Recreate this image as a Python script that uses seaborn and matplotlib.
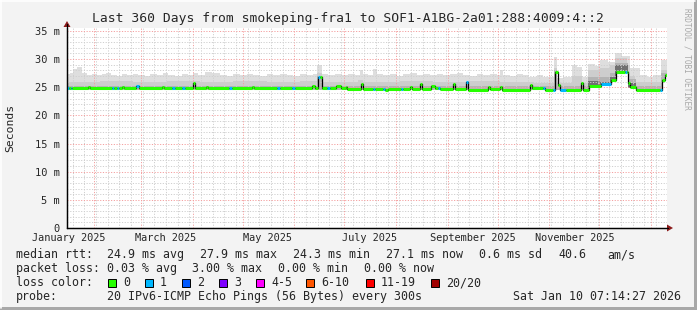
import numpy as np
import pandas as pd
import matplotlib
matplotlib.use("Agg")
import matplotlib.pyplot as plt
import seaborn as sns
from matplotlib.patches import Rectangle, Polygon
from matplotlib.lines import Line2D

# ---------------- data ----------------
start = pd.Timestamp("2025-01-15 07:14:27")
span_days = 360

# median rtt (ms) as steps: start day, value, loss-colour index
med_day = [0, 1.5, 2.5, 3.5, 13, 14, 27, 28.5, 30, 31.5, 33.5, 34.5, 41.5, 43.5, 57.5, 58.5,
           63.5, 65, 69.5, 71, 75.6, 77, 83.4, 85, 97.5, 99, 111, 112.5, 126.5, 128, 135.5, 137,
           147.5, 149, 150.8, 151.8, 153, 156.5, 158, 161.4, 164.4, 167.4, 168.5, 176.4, 177.8,
           183.6, 185, 189.6, 190.8, 193, 200.4, 201.8, 205.8, 207, 211.8, 213, 218.4, 221, 222.6,
           224, 231.6, 233, 239.4, 240.6, 252.6, 254, 259.8, 261, 277.8, 279, 285.6, 286.8, 291.6,
           292.8, 294.6, 295.8, 299.4, 308.4, 309.6, 313.2, 320.4, 326.4, 329.4, 334.8, 336,
           336.6, 337.8, 341.4, 356, 357, 358.8]
med_val = [24.9, 24.8, 24.8, 24.8, 25.0, 24.8, 24.8, 24.8, 24.8, 24.8, 25.1, 24.8, 25.2, 24.9, 25.1, 24.8,
           24.8, 24.8, 24.8, 24.8, 25.8, 24.8, 25.0, 24.8, 24.8, 24.8, 25.0, 24.8, 24.8, 24.8, 24.8, 24.8,
           25.2, 24.8, 26.8, 26.8, 24.8, 24.8, 24.8, 25.2, 24.8, 25.0, 24.7, 25.6, 24.7,
           24.7, 24.7, 24.7, 24.5, 24.7, 24.7, 24.7, 25.1, 24.7, 25.6, 24.7, 25.3, 24.9, 24.9,
           24.7, 25.6, 24.7, 25.9, 24.6, 25.0, 24.7, 25.0, 24.5, 25.4, 24.8, 24.8, 24.5, 24.5,
           27.8, 25.4, 24.6, 24.6, 25.7, 24.6, 25.2, 25.5, 26.3, 27.8, 27.8, 27.8,
           25.7, 25.1, 24.5, 24.5, 26.3, 27.2]
med_loss = [1, 0, 1, 0, 0, 0, 1, 0, 1, 0, 0, 0, 1, 0, 0, 0,
            1, 0, 1, 0, 0, 0, 0, 0, 1, 0, 0, 0, 1, 0, 1, 0,
            0, 0, 1, 0, 0, 1, 0, 0, 0, 0, 0, 0, 0,
            1, 0, 1, 0, 0, 1, 0, 0, 0, 0, 0, 0, 0, 1,
            0, 0, 0, 1, 0, 0, 0, 0, 0, 0, 0, 1, 0, 1,
            0, 0, 1, 0, 0, 0, 0, 1, 0, 0, 1, 0,
            0, 0, 0, 1, 0, 0]

# smoke: lower edge and the tops of the grey layers (ms)
lo_day = [0, 313.2, 320.4, 326.4, 329.4, 336.6, 341.4, 357, 358.8]
lo_val = [24.5, 24.9, 25.2, 25.9, 27.5, 24.9, 24.4, 25.8, 26.8]

outer_day = [0, 2, 4, 6.5, 9.5, 12, 15, 18, 21, 23.5, 26.5, 30, 33, 36, 40, 43, 47, 50, 54, 58, 61,
             65, 69, 73, 76, 79, 83, 87, 92, 96, 100, 104, 108, 112, 116, 120, 124, 128, 132, 136,
             140, 144, 148, 150.5, 153, 157, 161, 165, 169, 173, 176, 178, 181, 184, 186, 190, 194,
             198, 202, 206, 210, 214, 218, 222, 226, 230, 234, 238, 242, 246, 250, 254, 258, 260,
             262, 266, 270, 274, 277, 282, 286, 292.5, 294.5, 298, 303, 306, 309, 313, 317, 320,
             325, 329, 333, 338, 344, 348, 352, 356.4]
outer_top = [27.3, 27.6, 28.3, 28.6, 27.5, 27.2, 27.4, 27.1, 27.3, 27.6, 27.2, 27.0, 27.3, 27.1, 27.4, 27.2, 27.0, 27.3, 27.1, 27.5, 27.2,
             27.0, 27.3, 27.1, 27.6, 27.2, 27.7, 27.5, 27.2, 27.0, 27.3, 27.1, 27.4, 27.2, 27.0, 27.3, 27.1, 27.4, 27.2, 27.0,
             27.3, 27.1, 27.4, 28.9, 27.4, 27.1, 27.3, 27.1, 27.4, 27.2, 28.0, 27.3, 27.1, 28.2, 27.4, 27.1, 27.3,
             27.0, 27.4, 27.5, 27.2, 27.3, 27.1, 27.4, 27.1, 27.3, 27.5, 27.2, 27.0, 27.3, 27.1, 27.4, 27.2, 28.0,
             27.2, 27.0, 27.3, 27.1, 26.9, 27.1, 26.8, 30.4, 26.6, 26.9, 29.0, 28.6, 26.9, 29.2, 28.8, 29.8,
             29.5, 31.0, 30.6, 28.4, 27.2, 26.9, 27.1, 29.8]

mid_day = [0, 20, 40, 60, 80, 100, 120, 140, 150.5, 153, 175, 178, 200, 220, 240, 260, 280,
           292.5, 294.5, 300, 303, 309, 313, 320, 326, 329, 336, 338, 341, 356.4]
mid_top = [26.0, 26.2, 25.9, 26.1, 26.0, 26.2, 25.9, 26.1, 27.5, 26.0, 26.3, 26.0, 26.1, 25.9, 26.2, 25.9, 25.8,
           28.5, 25.7, 25.8, 27.0, 25.8, 28.0, 28.5, 29.0, 30.2, 29.0, 27.0, 26.0, 28.0]

inner_day = [0, 150.5, 153, 292.5, 294.5, 313, 326, 329, 336.6, 341.4, 356.4]
inner_top = [25.3, 27.0, 25.3, 28.0, 25.2, 26.8, 27.5, 29.4, 26.5, 25.2, 27.5]

core_day = [0, 313, 320, 326, 329, 336.6, 341.4]
core_top = [0, 26.2, 26.0, 26.8, 28.9, 25.8, 0]

loss_labels = ["0", "1", "2", "3", "4-5", "6-10", "11-19", "20/20"]
loss_colors = ["#26ff00", "#00b8ff", "#0059ff", "#7e00ff", "#ff00ff", "#ff5500", "#ff0000", "#a10000"]

title = "Last 360 Days from smokeping-fra1 to SOF1-A1BG-2a01:288:4009:4::2"
y_ticks = [0, 5, 10, 15, 20, 25, 30, 35]
y_labels = ["0", "5 m", "10 m", "15 m", "20 m", "25 m", "30 m", "35 m"]
month_labels = ["January 2025", "March 2025", "May 2025", "July 2025", "September 2025", "November 2025"]
month_label_dates = ["2025-01-16", "2025-03-16", "2025-05-16", "2025-07-16", "2025-09-16", "2025-11-16"]

legend_rows = [
    [(16, "median rtt:"), (107, "24.9 ms avg"), (200, "27.9 ms max"), (293, "24.3 ms min"),
     (386, "27.1 ms now"), (479, "0.6 ms sd"), (558, "40.6"), (607, "am/s")],
    [(16, "packet loss:"), (107, "0.03 % avg"), (192, "3.00 % max"), (278, "0.00 % min"),
     (364, "0.00 % now")],
    [(16, "loss color:")],
    [(16, "probe:"), (107, "20 IPv6-ICMP Echo Pings (56 Bytes) every 300s"),
     (513, "Sat Jan 10 07:14:27 2026")],
]
box_x = [108, 145, 182, 219, 256, 306, 366, 431]

# ---------------- figure ----------------
sns.set_style("white")
plt.rcParams["font.family"] = ["DejaVu Sans Mono", "DejaVu Sans"]

W, H = 697, 310
fig = plt.figure(figsize=(W / 100, H / 100), dpi=100)
fig.patch.set_facecolor("#f3f3f3")

def fx(px):
    return px / W

def fy(py):
    return (H - py) / H

# frame shading
fig.add_artist(Line2D([fx(0.5), fx(0.5)], [fy(0), fy(308)], color="#ffffff", lw=1.2))
fig.add_artist(Line2D([fx(0), fx(695)], [fy(0.5), fy(0.5)], color="#ffffff", lw=1.2))
fig.add_artist(Rectangle((fx(694), 0), fx(3), 1, transform=fig.transFigure, fc="#a8a8a8", ec="none"))
fig.add_artist(Rectangle((0, 0), 1, 3 / H, transform=fig.transFigure, fc="#a8a8a8", ec="none"))

ax = fig.add_axes([fx(66.5), fy(228), fx(600), 200 / H])
ax.set_facecolor("white")
ax.set_xlim(0, span_days)
ax.set_ylim(0, 35.53)

def step_at(days, vals, x):
    idx = np.searchsorted(np.asarray(days), x, side="right") - 1
    return np.asarray(vals)[idx]

layers = [(outer_day, outer_top, "#dedede"), (mid_day, mid_top, "#cdcdcd"),
          (inner_day, inner_top, "#b4b4b4"), (core_day, core_top, "#707070")]
for ldays, ltops, col in layers:
    xs = np.union1d(np.union1d(ldays, lo_day), [span_days])
    top = step_at(ldays, ltops, xs)
    lo = step_at(lo_day, lo_val, xs)
    ax.fill_between(xs, lo, np.maximum(top, lo), step="post", color=col, lw=0, zorder=1)

# median line
med_df = pd.DataFrame({"day": med_day + [span_days], "rtt": med_val + [med_val[-1]]})
sns.lineplot(data=med_df, x="day", y="rtt", ax=ax, estimator=None, drawstyle="steps-post",
             color="black", lw=0.9, zorder=4)
ends = med_day[1:] + [span_days]
for d0, d1, v, l in zip(med_day, ends, med_val, med_loss):
    ax.hlines(v, d0, d1, colors=loss_colors[l], lw=2.2, zorder=5)

# grid
month_starts = pd.date_range("2025-02-01", "2026-01-01", freq="MS")
weeks = pd.date_range(start, start + pd.Timedelta(days=span_days), freq="W-SUN")
mpos = [(d - start) / pd.Timedelta(days=1) for d in month_starts]
wpos = [(d.normalize() - start) / pd.Timedelta(days=1) for d in weeks]
ax.set_xticks(mpos)
ax.set_xticks(wpos, minor=True)
ax.set_xticklabels([])
ax.set_yticks(y_ticks)
ax.set_yticklabels(y_labels)
ax.set_yticks(np.arange(0, 36, 1), minor=True)
ax.set_axisbelow(False)
ax.grid(which="minor", color="#cfcfcf", lw=0.7, ls=(0, (1.2, 1.6)), zorder=3)
ax.grid(which="major", color="#f4a0a0", lw=0.7, ls=(0, (1.2, 1.6)), zorder=3)
ax.tick_params(axis="both", which="major", length=3, width=0.7, color="#444444",
               labelsize=7.5, pad=2)
ax.tick_params(axis="both", which="minor", length=2, width=0.6, color="#888888")
ax.set_xlabel("")
ax.set_ylabel("")

for sp in ["top", "right"]:
    ax.spines[sp].set_visible(False)
for sp in ["left", "bottom"]:
    ax.spines[sp].set_color("black")
    ax.spines[sp].set_linewidth(0.9)

# month labels at mid-month
for lab, dstr in zip(month_labels, month_label_dates):
    pos = (pd.Timestamp(dstr) - start) / pd.Timedelta(days=1)
    ax.text(max(pos, 1.2), -1.8, lab, ha="center", va="center", fontsize=7.4, clip_on=False)

# axis arrows
fig.add_artist(Line2D([fx(66.8), fx(66.8)], [fy(228), fy(24)], color="black", lw=0.9))
fig.add_artist(Line2D([fx(66.5), fx(668)], [fy(228), fy(228)], color="black", lw=0.9))
fig.add_artist(Polygon([[fx(63.5), fy(27)], [fx(70.5), fy(27)], [fx(67), fy(21)]], closed=True,
                       transform=fig.transFigure, fc="#8b1a1a", ec="none"))
fig.add_artist(Polygon([[fx(667), fy(224.5)], [fx(667), fy(231.5)], [fx(673), fy(228)]], closed=True,
                       transform=fig.transFigure, fc="#8b1a1a", ec="none"))

# texts
fig.text(fx(347.5), fy(18.5), title, ha="center", va="center", fontsize=9.4)
fig.text(fx(10), fy(128), "Seconds", ha="center", va="center", rotation=90, fontsize=8.2)
fig.text(fx(687), fy(59), "RRDTOOL / TOBI OETIKER", ha="center", va="center", rotation=270,
         fontsize=5.6, color="#a8a8a8")

row_y = [254.5, 268.5, 282.5, 296.5]
for ry, row in zip(row_y, legend_rows):
    for px, s in row:
        fig.text(fx(px), fy(ry), s, ha="left", va="center", fontsize=8.4)

for bx, lab, col in zip(box_x, loss_labels, loss_colors):
    fig.add_artist(Rectangle((fx(bx), fy(286.5)), fx(8), 8 / H, transform=fig.transFigure,
                             fc=col, ec="black", lw=0.7))
    fig.text(fx(bx + 15), fy(282.5), lab, ha="left", va="center", fontsize=8.4)

fig.savefig("out.png", dpi=100, facecolor=fig.get_facecolor())
